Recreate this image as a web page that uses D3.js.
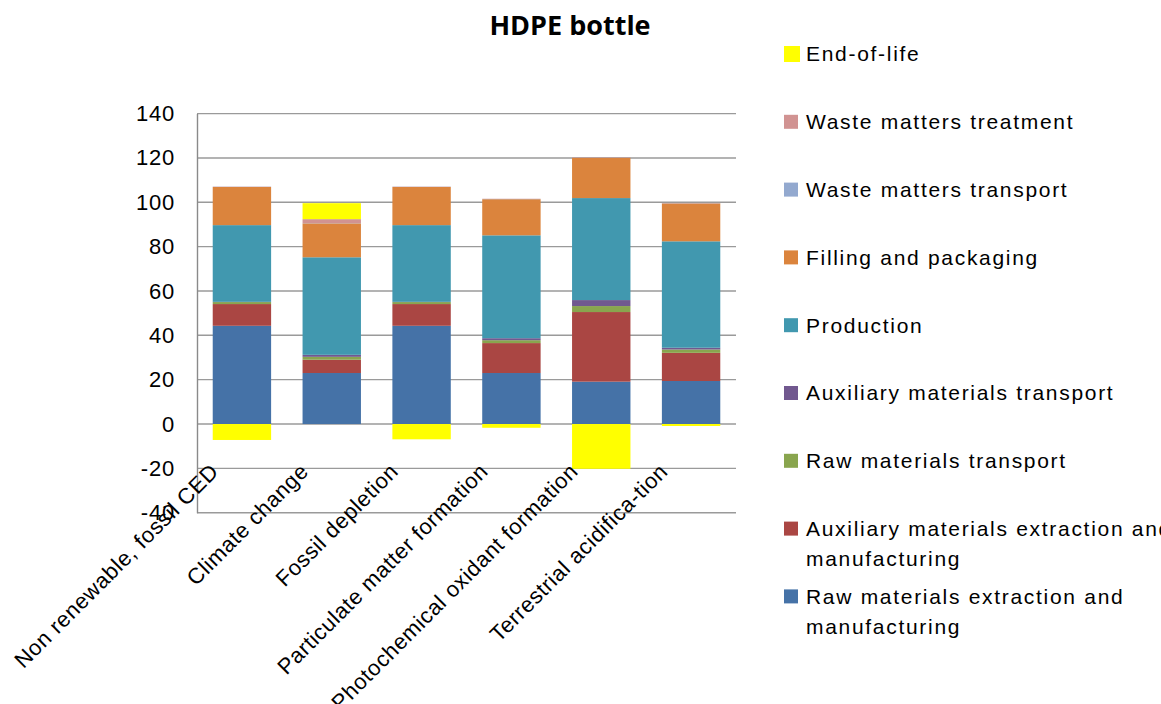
<!DOCTYPE html>
<html>
<head>
<meta charset="utf-8">
<script src="https://cdn.jsdelivr.net/npm/d3@7/dist/d3.min.js"></script>
<style>
  html, body { margin: 0; padding: 0; background: #fff; }
  svg { display: block; }
</style>
</head>
<body>
<svg id="chart" width="1161" height="704"></svg>
<script>
// Impact categories (x axis)
const categories = [
  "Non renewable, fossil CED",
  "Climate change",
  "Fossil depletion",
  "Particulate matter formation",
  "Photochemical oxidant formation",
  "Terrestrial acidifica-tion"
];

// Contribution of each life-cycle stage, % per category
const rawExtraction   = [44.3, 23.0, 44.3, 23.0, 19.1, 19.4];
const auxExtraction   = [9.8, 6.0, 9.8, 13.5, 31.4, 12.7];
const rawTransport    = [0.9, 1.3, 0.9, 1.3, 2.7, 1.5];
const auxTransport    = [0.1, 0.9, 0.1, 0.9, 2.7, 0.8];
const production      = [34.6, 44.0, 34.6, 46.4, 46.0, 48.0];
const filling         = [17.2, 15.3, 17.2, 16.3, 18.2, 17.1];
const wasteTransport  = [0.1, 0.1, 0.1, 0.1, 0.1, 0.1];
const wasteTreatment  = [0.1, 1.8, 0.1, 0.1, 0.1, 0.1];
const endOfLife       = [-7.2, 7.2, -6.9, -1.7, -20.2, -0.9];

// Stage names, stacking order bottom → top
const seriesNames = [
  "Raw materials extraction and manufacturing",
  "Auxiliary materials extraction and manufacturing",
  "Raw materials transport",
  "Auxiliary materials transport",
  "Production",
  "Filling and packaging",
  "Waste matters transport",
  "Waste matters treatment",
  "End-of-life"
];
// Legend text, broken into lines
const legendLines = [
  ["Raw materials extraction and", "manufacturing"],
  ["Auxiliary materials extraction and", "manufacturing"],
  ["Raw materials transport"],
  ["Auxiliary materials transport"],
  ["Production"],
  ["Filling and packaging"],
  ["Waste matters transport"],
  ["Waste matters treatment"],
  ["End-of-life"]
];
const seriesColors = ["#4572A7", "#AA4643", "#89A54E", "#71588F", "#4198AF",
                      "#DB843D", "#93A9CF", "#D19392", "#FFFF00"];
const yTicks = [-40, -20, 0, 20, 40, 60, 80, 100, 120, 140];
const chartTitle = "HDPE bottle";

const seriesValues = [rawExtraction, auxExtraction, rawTransport, auxTransport,
                      production, filling, wasteTransport, wasteTreatment, endOfLife];

const rows = categories.map((c, i) => {
  const r = { category: c };
  seriesNames.forEach((s, j) => { r[s] = seriesValues[j][i]; });
  return r;
});

const svg = d3.select("#chart");
const plot = { left: 197, right: 736, top: 113.6, bottom: 512.7 };

const x = d3.scaleBand()
  .domain(categories)
  .range([plot.left, plot.right])
  .paddingInner(0.35)
  .paddingOuter(0.175);

const y = d3.scaleLinear()
  .domain([-40, 140])
  .range([plot.bottom, plot.top]);

// Gridlines
svg.append("g")
  .selectAll("line")
  .data(yTicks)
  .join("line")
  .attr("x1", plot.left)
  .attr("x2", plot.right)
  .attr("y1", d => y(d))
  .attr("y2", d => y(d))
  .attr("stroke", "#9a9a9a")
  .attr("stroke-width", 1.4);

// Stacked bars (negative values stack below zero)
const stacked = d3.stack()
  .keys(seriesNames)
  .offset(d3.stackOffsetDiverging)(rows);

svg.append("g")
  .selectAll("g")
  .data(stacked)
  .join("g")
  .attr("fill", (d, i) => seriesColors[i])
  .selectAll("rect")
  .data(d => d)
  .join("rect")
  .attr("x", d => x(d.data.category))
  .attr("width", x.bandwidth())
  .attr("y", d => y(Math.max(d[0], d[1])))
  .attr("height", d => Math.abs(y(d[0]) - y(d[1])));

// Value axis
const yAxis = svg.append("g")
  .attr("transform", `translate(${plot.left},0)`)
  .call(d3.axisLeft(y).tickValues(yTicks).tickSize(0).tickPadding(22)
    .tickFormat(d => String(d)));
yAxis.select(".domain").attr("stroke", "#8a8a8a").attr("stroke-width", 1.4);
yAxis.selectAll("text")
  .attr("font-family", "'Liberation Sans', Arial, sans-serif")
  .attr("font-size", 22)
  .attr("letter-spacing", 0.8)
  .attr("fill", "#000");

// Category labels, rotated
const labelX = c => x(c) + x.bandwidth() / 2 - 22;
svg.append("g")
  .selectAll("text")
  .data(categories)
  .join("text")
  .attr("transform", c => `translate(${labelX(c)},${y(-22)}) rotate(-45)`)
  .attr("text-anchor", "end")
  .attr("font-family", "'Liberation Sans', Arial, sans-serif")
  .attr("font-size", 22)
  .attr("letter-spacing", 0.6)
  .attr("fill", "#000")
  .text(c => c);

// Title
svg.append("text")
  .attr("x", 570)
  .attr("y", 35)
  .attr("text-anchor", "middle")
  .attr("font-family", "'Open Sans', sans-serif")
  .attr("font-weight", "bold")
  .attr("font-size", 27)
  .attr("fill", "#000")
  .text(chartTitle);

// Legend, top entry is the last series
const legendOrder = d3.range(seriesNames.length).reverse();
const legendY = d3.scalePoint()
  .domain(legendOrder)
  .range([54, 54 + 67.8 * (legendOrder.length - 1)]);

const legend = svg.append("g");
const item = legend.selectAll("g")
  .data(legendOrder)
  .join("g")
  .attr("transform", i => `translate(784,${legendY(i)})`);

item.append("rect")
  .attr("x", 0)
  .attr("y", i => i === 8 ? -8 : -7)
  .attr("width", i => i === 8 ? 16 : 14)
  .attr("height", i => i === 8 ? 16 : 14)
  .attr("fill", i => seriesColors[i]);

item.append("text")
  .attr("x", 22)
  .attr("font-family", "'Liberation Sans', Arial, sans-serif")
  .attr("font-size", 21)
  .attr("letter-spacing", 1.7)
  .attr("fill", "#000")
  .selectAll("tspan")
  .data(i => legendLines[i])
  .join("tspan")
  .attr("x", 22)
  .attr("y", (d, k) => k * 30)
  .attr("dy", "0.35em")
  .text(d => d);
</script>
</body>
</html>
